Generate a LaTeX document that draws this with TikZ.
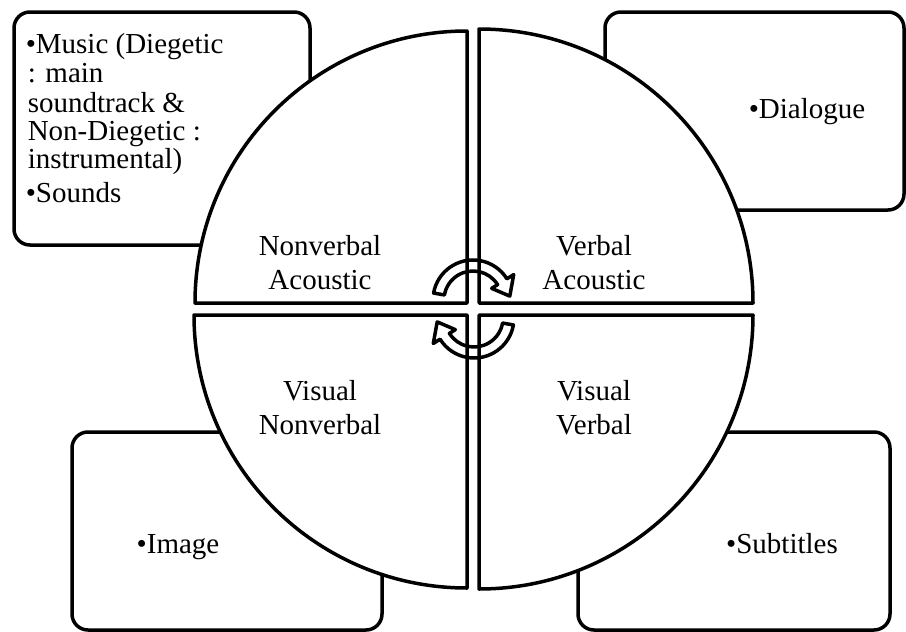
\documentclass[tikz,border=0pt]{standalone}
\usepackage{fontspec}
\setmainfont{Liberation Serif}
\begin{document}
\begin{tikzpicture}[x=1pt,y=-1pt,line width=3.5pt,
  cornerbox/.style={draw=black,fill=white,rounded corners=16pt},
  quad/.style={draw=black,fill=white,line join=round},
  cyc/.style={draw=black,line join=round},
  lbl/.style={font=\fontsize{29}{34}\selectfont,inner sep=0pt,anchor=base},
  lbll/.style={font=\fontsize{29}{34}\selectfont,inner sep=0pt,anchor=base west}]
\useasboundingbox (0,0) rectangle (906,632);
% corner boxes
\path[cornerbox] (14,12) rectangle (310,245);
\path[cornerbox] (605,12) rectangle (904,210);
\path[cornerbox] (72,432) rectangle (382,630);
\path[cornerbox] (578,432) rectangle (890,630);
% quadrants
\path[quad] (467,303) -- (195,303) arc[start angle=180,end angle=270,radius=272] -- cycle;
\path[quad] (479,303) -- (479,29) arc[start angle=270,end angle=360,radius=274] -- cycle;
\path[quad] (467,315) -- (467,588) arc[start angle=90,end angle=180,radius=273] -- cycle;
\path[quad] (479,315) -- (753,315) arc[start angle=0,end angle=90,radius=274] -- cycle;
% quadrant labels
\node[lbl] (nva1) at (320,255) {Nonverbal};
\node[lbl] (nva2) at (320,289) {Acoustic};
\node[lbl] (va1) at (594,255) {Verbal};
\node[lbl] (va2) at (594,289) {Acoustic};
\node[lbl] (vn1) at (320,400) {Visual};
\node[lbl] (vn2) at (320,434) {Nonverbal};
\node[lbl] (vv1) at (594,400) {Visual};
\node[lbl] (vv2) at (594,434) {Verbal};
% box texts
\node[lbll] (m1) at (24,53) {•Music (Diegetic};
\node[lbll] (m2) at (26,82) {: main};
\node[lbll] (m3) at (26,112) {soundtrack \&};
\node[lbll] (m4) at (26,140) {Non-Diegetic :};
\node[lbll] (m5) at (26,168) {instrumental)};
\node[lbll] (m6) at (24,202) {•Sounds};
\node[lbl] (dlg) at (807,118) {•Dialogue};
\node[lbl] (img) at (178,553) {•Image};
\node[lbl] (sub) at (782,553) {•Subtitles};
% circular arrows
\begin{scope}[shift={(473,300)},yscale=-1]
\path[cyc] (170:40) arc[start angle=170,end angle=32,radius=40] -- (32:48) -- (6:37) -- (32:22) -- (32:29) arc[start angle=32,end angle=170,radius=29] -- cycle;
\end{scope}
\begin{scope}[shift={(474,318)},yscale=-1,rotate=180]
\path[cyc] (170:40) arc[start angle=170,end angle=32,radius=40] -- (32:48) -- (6:37) -- (32:22) -- (32:29) arc[start angle=32,end angle=170,radius=29] -- cycle;
\end{scope}
\end{tikzpicture}
\end{document}
